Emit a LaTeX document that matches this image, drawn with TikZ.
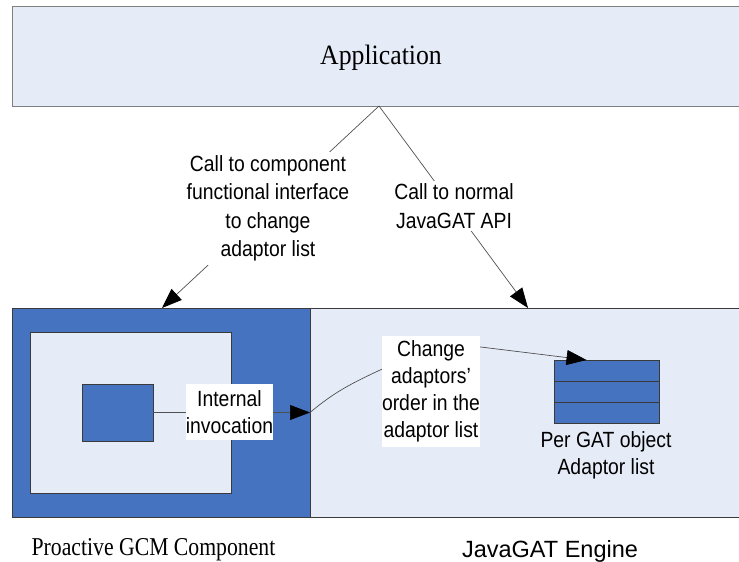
\documentclass[tikz,border=0pt]{standalone}
\usepackage{fontspec}
\setmainfont{Liberation Serif}
\setsansfont{Liberation Sans}
\newfontfamily\labfont[FakeStretch=0.88]{Liberation Sans}
\newfontfamily\capserif[FakeStretch=0.845]{Liberation Serif}
\newfontfamily\appfont[FakeStretch=0.92]{Liberation Serif}
\usetikzlibrary{arrows.meta,calc}
\definecolor{lightbg}{HTML}{E6ECF7}
\definecolor{gcmblue}{HTML}{4573BF}
\definecolor{edgedark}{HTML}{3A3A3A}
\definecolor{edgegray}{HTML}{7F7F7F}
\definecolor{connc}{HTML}{505050}
\tikzset{
  box/.style={draw=edgedark, line width=0.9pt, inner sep=0pt, outer sep=0pt, anchor=north west},
  lbl/.style={font=\labfont\fontsize{22}{28.5}\selectfont, align=center, inner sep=3pt, fill=white},
  wlbl/.style={font=\labfont\fontsize{22}{27}\selectfont, align=center, inner sep=0pt, fill=white},
  conn/.style={draw=connc, line width=0.7pt},
  arr/.style={conn, -{Triangle[length=20pt,width=15pt,color=black,fill=black]}}
}
\begin{document}
\begin{tikzpicture}[x=1pt,y=-1pt]
\clip (0,0) rectangle (739,562);
\useasboundingbox (0,0) rectangle (739,562);
% application
\node[box, draw=edgegray, fill=lightbg, minimum width=737pt, minimum height=100pt] (app) at (12,6) {};
\node[font=\appfont\fontsize{28}{34}\selectfont, inner sep=0pt] (apptext) at (381,57.5) {Application};
% bottom blocks
\node[box, fill=lightbg, minimum width=737pt, minimum height=209pt] (engine) at (12,308) {};
\node[box, fill=gcmblue, minimum width=298pt, minimum height=209pt] (gcm) at (12,308) {};
\node[box, fill=lightbg, minimum width=201pt, minimum height=161pt] (inner) at (30,332) {};
\node[box, fill=gcmblue, minimum width=71pt, minimum height=57pt] (small) at (82,384) {};
% adaptor list
\node[box, fill=gcmblue, minimum width=105pt, minimum height=21pt] (ad1) at (554,360) {};
\node[box, fill=gcmblue, minimum width=105pt, minimum height=21pt] (ad2) at (554,381) {};
\node[box, fill=gcmblue, minimum width=105pt, minimum height=21pt] (ad3) at (554,402) {};
% connectors
\coordinate (apex) at (379,106);
\coordinate (tipL) at (162,308);
\coordinate (tipR) at (528,308);
\draw[arr] (apex) -- (tipL);
\draw[arr] (apex) -- (tipR);
\draw[arr] (small.east) -- (gcm.east);
% labels
\node[lbl] (lblL) at (268,208.5) {Call to component\\functional interface\\to change\\adaptor list};
\node[lbl] (lblR) at (454,206) {Call to normal\\JavaGAT API};
\node[wlbl, minimum width=87pt, minimum height=56pt] (intl) at (229.5,412) {Internal\\invocation};
\node[wlbl, minimum width=98pt, minimum height=111pt] (chg) at (431,391.5) {Change\\adaptors’\\order in the\\adaptor list};
\draw[conn] (gcm.east) to[out=40,in=205] ($(chg.north west)!0.3!(chg.south west)$);
\draw[arr] ($(chg.north east)!0.1!(chg.south east)$) -- ($(ad1.north west)!0.31!(ad1.north east)$);
\node[font=\labfont\fontsize{22}{27}\selectfont, align=center, inner sep=0pt] (perg) at (606,455) {Per GAT object\\Adaptor list};
% captions
\node[font=\capserif\fontsize{25.7}{30}\selectfont, anchor=base, inner sep=0pt] (gcmcap) at (153.5,555) {Proactive GCM Component};
\node[font=\sffamily\fontsize{23.5}{28}\selectfont, anchor=base, inner sep=0pt] (engcap) at (550,557) {JavaGAT Engine};
\end{tikzpicture}
\end{document}
